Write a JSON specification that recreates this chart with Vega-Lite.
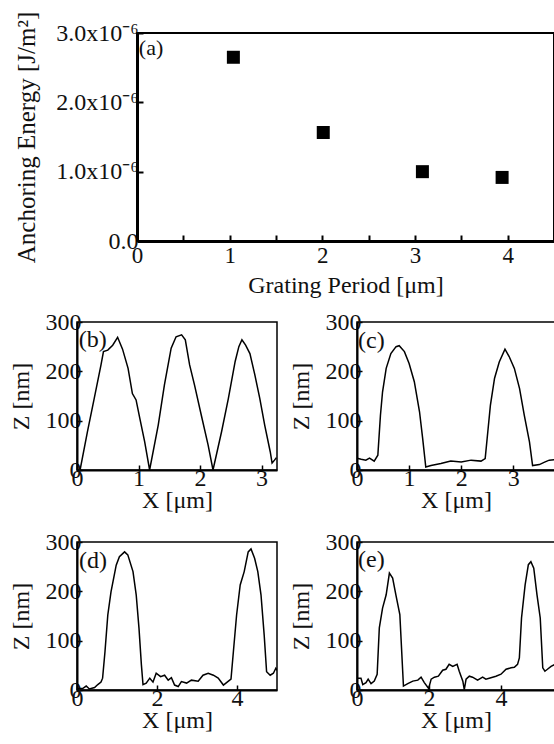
{
  "$schema": "https://vega.github.io/schema/vega-lite/v6.json",
  "background": "white",
  "padding": {"left": 8, "top": 10, "right": 0, "bottom": 0},
  "config": {
    "font": "Liberation Serif",
    "view": {"stroke": "#000", "strokeWidth": 1.5},
    "axis": {
      "grid": false, "domainColor": "#000", "domainWidth": 2, "tickColor": "#000", "tickWidth": 1.5, "tickSize": -5,
      "labelColor": "#111", "titleColor": "#111", "labelFont": "Liberation Serif", "titleFont": "Liberation Serif",
      "titleFontWeight": "normal", "labelFontSize": 24, "titleFontSize": 24, "labelPadding": 1, "titlePadding": 12,
      "labelOverlap": false, "labelFlush": false
    },
    "axisX": {"titlePadding": -2},
    "text": {"font": "Liberation Serif", "color": "#111"}
  },
  "datasets": {
    "a": [
      {"period": 1.04, "energy": 2.65e-6},
      {"period": 2.01, "energy": 1.565e-6},
      {"period": 3.08, "energy": 1.0e-6},
      {"period": 3.94, "energy": 0.917e-6}
    ],
    "b": [
      {"x": 0.05, "z": 0}, {"x": 0.17, "z": 78}, {"x": 0.28, "z": 145}, {"x": 0.39, "z": 213}, {"x": 0.43, "z": 240},
      {"x": 0.5, "z": 243}, {"x": 0.58, "z": 253}, {"x": 0.66, "z": 269}, {"x": 0.74, "z": 245}, {"x": 0.83, "z": 206},
      {"x": 0.9, "z": 155}, {"x": 0.96, "z": 142}, {"x": 1.02, "z": 105}, {"x": 1.1, "z": 57}, {"x": 1.18, "z": 0},
      {"x": 1.32, "z": 91}, {"x": 1.42, "z": 172}, {"x": 1.53, "z": 247}, {"x": 1.61, "z": 270}, {"x": 1.7, "z": 274},
      {"x": 1.76, "z": 264}, {"x": 1.83, "z": 213}, {"x": 1.91, "z": 172}, {"x": 2.02, "z": 111}, {"x": 2.13, "z": 51},
      {"x": 2.21, "z": 0}, {"x": 2.35, "z": 78}, {"x": 2.46, "z": 145}, {"x": 2.57, "z": 220}, {"x": 2.63, "z": 250},
      {"x": 2.68, "z": 264}, {"x": 2.74, "z": 253}, {"x": 2.81, "z": 236}, {"x": 2.89, "z": 193}, {"x": 2.97, "z": 145},
      {"x": 3.05, "z": 91}, {"x": 3.14, "z": 37}, {"x": 3.17, "z": 14}, {"x": 3.21, "z": 20}, {"x": 3.24, "z": 25}
    ],
    "c": [
      {"x": 0.0, "z": 24}, {"x": 0.08, "z": 22}, {"x": 0.17, "z": 20}, {"x": 0.24, "z": 24}, {"x": 0.33, "z": 18},
      {"x": 0.4, "z": 30}, {"x": 0.45, "z": 111}, {"x": 0.49, "z": 158}, {"x": 0.56, "z": 206}, {"x": 0.65, "z": 236},
      {"x": 0.75, "z": 250}, {"x": 0.81, "z": 252}, {"x": 0.91, "z": 240}, {"x": 1.0, "z": 216}, {"x": 1.1, "z": 179},
      {"x": 1.2, "z": 118}, {"x": 1.26, "z": 64}, {"x": 1.32, "z": 6}, {"x": 1.42, "z": 9}, {"x": 1.61, "z": 13},
      {"x": 1.8, "z": 18}, {"x": 2.0, "z": 16}, {"x": 2.19, "z": 20}, {"x": 2.38, "z": 18}, {"x": 2.46, "z": 23},
      {"x": 2.51, "z": 77}, {"x": 2.56, "z": 131}, {"x": 2.64, "z": 186}, {"x": 2.73, "z": 219}, {"x": 2.84, "z": 245},
      {"x": 2.92, "z": 230}, {"x": 3.02, "z": 206}, {"x": 3.12, "z": 165}, {"x": 3.21, "z": 111}, {"x": 3.31, "z": 57},
      {"x": 3.37, "z": 9}, {"x": 3.5, "z": 11}, {"x": 3.6, "z": 16}, {"x": 3.69, "z": 20}, {"x": 3.8, "z": 21}
    ],
    "d": [
      {"x": 0.0, "z": 3}, {"x": 0.14, "z": 3}, {"x": 0.23, "z": 8}, {"x": 0.31, "z": 2}, {"x": 0.44, "z": 5},
      {"x": 0.52, "z": 11}, {"x": 0.6, "z": 16}, {"x": 0.64, "z": 24}, {"x": 0.7, "z": 78}, {"x": 0.77, "z": 152},
      {"x": 0.85, "z": 199}, {"x": 0.98, "z": 253}, {"x": 1.06, "z": 270}, {"x": 1.19, "z": 280}, {"x": 1.27, "z": 274},
      {"x": 1.4, "z": 240}, {"x": 1.48, "z": 193}, {"x": 1.55, "z": 125}, {"x": 1.61, "z": 51}, {"x": 1.65, "z": 11},
      {"x": 1.73, "z": 14}, {"x": 1.82, "z": 24}, {"x": 1.9, "z": 16}, {"x": 1.98, "z": 34}, {"x": 2.09, "z": 27},
      {"x": 2.19, "z": 30}, {"x": 2.28, "z": 20}, {"x": 2.36, "z": 25}, {"x": 2.44, "z": 10}, {"x": 2.53, "z": 7},
      {"x": 2.61, "z": 17}, {"x": 2.74, "z": 14}, {"x": 2.86, "z": 20}, {"x": 3.03, "z": 18}, {"x": 3.15, "z": 30},
      {"x": 3.28, "z": 34}, {"x": 3.41, "z": 30}, {"x": 3.53, "z": 24}, {"x": 3.66, "z": 10}, {"x": 3.77, "z": 17},
      {"x": 3.85, "z": 22}, {"x": 3.91, "z": 78}, {"x": 3.99, "z": 152}, {"x": 4.08, "z": 213}, {"x": 4.18, "z": 240},
      {"x": 4.28, "z": 280}, {"x": 4.35, "z": 286}, {"x": 4.44, "z": 267}, {"x": 4.52, "z": 240}, {"x": 4.6, "z": 193},
      {"x": 4.68, "z": 111}, {"x": 4.74, "z": 37}, {"x": 4.83, "z": 30}, {"x": 4.91, "z": 34}, {"x": 4.97, "z": 44},
      {"x": 5.0, "z": 40}
    ],
    "e": [
      {"x": 0.0, "z": 24}, {"x": 0.11, "z": 24}, {"x": 0.16, "z": 11}, {"x": 0.25, "z": 15}, {"x": 0.31, "z": 22},
      {"x": 0.39, "z": 13}, {"x": 0.48, "z": 18}, {"x": 0.56, "z": 32}, {"x": 0.62, "z": 126}, {"x": 0.71, "z": 166},
      {"x": 0.81, "z": 193}, {"x": 0.9, "z": 237}, {"x": 0.99, "z": 227}, {"x": 1.08, "z": 193}, {"x": 1.19, "z": 153},
      {"x": 1.29, "z": 8}, {"x": 1.41, "z": 13}, {"x": 1.55, "z": 18}, {"x": 1.69, "z": 20}, {"x": 1.78, "z": 26},
      {"x": 1.87, "z": 15}, {"x": 1.99, "z": 3}, {"x": 2.06, "z": 22}, {"x": 2.15, "z": 26}, {"x": 2.26, "z": 28},
      {"x": 2.38, "z": 40}, {"x": 2.47, "z": 42}, {"x": 2.56, "z": 52}, {"x": 2.66, "z": 48}, {"x": 2.78, "z": 52},
      {"x": 2.84, "z": 38}, {"x": 2.94, "z": 18}, {"x": 2.98, "z": 1}, {"x": 3.03, "z": 22}, {"x": 3.12, "z": 28},
      {"x": 3.21, "z": 26}, {"x": 3.35, "z": 20}, {"x": 3.49, "z": 26}, {"x": 3.58, "z": 22}, {"x": 3.72, "z": 25},
      {"x": 3.86, "z": 28}, {"x": 4.0, "z": 32}, {"x": 4.14, "z": 42}, {"x": 4.28, "z": 45}, {"x": 4.37, "z": 46},
      {"x": 4.46, "z": 52}, {"x": 4.51, "z": 65}, {"x": 4.57, "z": 146}, {"x": 4.67, "z": 213}, {"x": 4.76, "z": 254},
      {"x": 4.83, "z": 260}, {"x": 4.91, "z": 247}, {"x": 5.0, "z": 193}, {"x": 5.09, "z": 146}, {"x": 5.16, "z": 45},
      {"x": 5.22, "z": 38}, {"x": 5.29, "z": 42}, {"x": 5.39, "z": 48}, {"x": 5.5, "z": 52}
    ]
  },
  "spacing": 11,
  "vconcat": [
    {
      "bounds": "flush",
      "spacing": 0,
      "hconcat": [
        {"width": 60, "height": 208, "view": {"stroke": null}, "data": {"values": []}, "mark": "point"},
        {
          "width": 417, "height": 208,
          "view": {"stroke": "#000", "strokeWidth": 2},
          "layer": [
            {
              "data": {"name": "a"},
              "mark": {"type": "square", "size": 169, "color": "#000", "filled": true, "opacity": 1},
              "encoding": {
                "x": {"field": "period", "type": "quantitative", "scale": {"domain": [0, 4.5], "nice": false},
                  "axis": {"title": "Grating Period [μm]", "values": [0, 0.5, 1, 1.5, 2, 2.5, 3, 3.5, 4],
                    "labelExpr": "datum.value % 1 == 0 ? format(datum.value, 'd') : ''",
                    "labelFontSize": 23, "titleFontSize": 24, "domainWidth": 3, "tickWidth": 2, "tickSize": -6, "labelPadding": 9, "titlePadding": 6}},
                "y": {"field": "energy", "type": "quantitative", "scale": {"domain": [0, 3e-6], "nice": false},
                  "axis": {"title": "Anchoring Energy [J/m²]", "values": [0, 5e-7, 1e-6, 1.5e-6, 2e-6, 2.5e-6, 3e-6],
                    "labelExpr": "round(datum.value * 2e6) % 2 == 0 ? (datum.value == 0 ? '0.0' : format(datum.value * 1e6, '.1f') + 'x10⁻⁶') : ''",
                    "labelFontSize": 24, "titleFontSize": 25, "domainWidth": 3, "tickWidth": 2, "tickSize": -6, "labelPadding": 5, "titlePadding": 16}}
              }
            },
            {
              "data": {"values": [{"label": "(a)"}]},
              "mark": {"type": "text", "align": "left", "baseline": "middle", "fontSize": 22},
              "encoding": {
                "x": {"datum": 0.02, "type": "quantitative"},
                "y": {"datum": 2.78e-6, "type": "quantitative"},
                "text": {"field": "label"}
              }
            }
          ]
        }
      ]
    },
    {
      "spacing": 16,
      "vconcat": [
        {
          "bounds": "flush",
          "spacing": 80,
          "hconcat": [
            {
              "width": 200, "height": 148,
              "layer": [
                {
                  "data": {"name": "b"},
                  "mark": {"type": "line", "color": "#000", "strokeWidth": 1.5, "clip": true},
                  "encoding": {
                    "x": {"field": "x", "type": "quantitative", "scale": {"domain": [0, 3.25], "nice": false},
                      "axis": {"title": "X [μm]", "values": [0, 0.5, 1, 1.5, 2, 2.5, 3], "labelExpr": "datum.value % 1 == 0 ? format(datum.value, 'd') : ''"}},
                    "y": {"field": "z", "type": "quantitative", "scale": {"domain": [0, 300], "nice": false},
                      "axis": {"title": "Z [nm]", "values": [0, 50, 100, 150, 200, 250, 300], "labelExpr": "datum.value % 100 == 0 ? format(datum.value, 'd') : ''"}}
                  }
                },
                {
                  "data": {"values": [{"label": "(b)"}]},
                  "mark": {"type": "text", "align": "left", "baseline": "middle", "fontSize": 24},
                  "encoding": {"x": {"datum": 0.03, "type": "quantitative"}, "y": {"datum": 264, "type": "quantitative"}, "text": {"field": "label"}}
                }
              ]
            },
            {
              "width": 198, "height": 148,
              "layer": [
                {
                  "data": {"name": "c"},
                  "mark": {"type": "line", "color": "#000", "strokeWidth": 1.5, "clip": true},
                  "encoding": {
                    "x": {"field": "x", "type": "quantitative", "scale": {"domain": [0, 3.8], "nice": false},
                      "axis": {"title": "X [μm]", "values": [0, 0.5, 1, 1.5, 2, 2.5, 3, 3.5], "labelExpr": "datum.value % 1 == 0 ? format(datum.value, 'd') : ''"}},
                    "y": {"field": "z", "type": "quantitative", "scale": {"domain": [0, 300], "nice": false},
                      "axis": {"title": "Z [nm]", "values": [0, 50, 100, 150, 200, 250, 300], "labelExpr": "datum.value % 100 == 0 ? format(datum.value, 'd') : ''"}}
                  }
                },
                {
                  "data": {"values": [{"label": "(c)"}]},
                  "mark": {"type": "text", "align": "left", "baseline": "middle", "fontSize": 24},
                  "encoding": {"x": {"datum": 0.02, "type": "quantitative"}, "y": {"datum": 262, "type": "quantitative"}, "text": {"field": "label"}}
                }
              ]
            }
          ]
        },
        {
          "bounds": "flush",
          "spacing": 80,
          "hconcat": [
            {
              "width": 200, "height": 148,
              "layer": [
                {
                  "data": {"name": "d"},
                  "mark": {"type": "line", "color": "#000", "strokeWidth": 1.5, "clip": true},
                  "encoding": {
                    "x": {"field": "x", "type": "quantitative", "scale": {"domain": [0, 5], "nice": false},
                      "axis": {"title": "X [μm]", "values": [0, 0.5, 1, 1.5, 2, 2.5, 3, 3.5, 4, 4.5, 5], "labelExpr": "datum.value % 1 == 0 ? format(datum.value, 'd') : ''"}},
                    "y": {"field": "z", "type": "quantitative", "scale": {"domain": [0, 300], "nice": false},
                      "axis": {"title": "Z [nm]", "values": [0, 50, 100, 150, 200, 250, 300], "labelExpr": "datum.value % 100 == 0 ? format(datum.value, 'd') : ''"}}
                  }
                },
                {
                  "data": {"values": [{"label": "(d)"}]},
                  "mark": {"type": "text", "align": "left", "baseline": "middle", "fontSize": 24},
                  "encoding": {"x": {"datum": 0.05, "type": "quantitative"}, "y": {"datum": 261, "type": "quantitative"}, "text": {"field": "label"}}
                }
              ]
            },
            {
              "width": 198, "height": 148,
              "layer": [
                {
                  "data": {"name": "e"},
                  "mark": {"type": "line", "color": "#000", "strokeWidth": 1.5, "clip": true},
                  "encoding": {
                    "x": {"field": "x", "type": "quantitative", "scale": {"domain": [0, 5.5], "nice": false},
                      "axis": {"title": "X [μm]", "values": [0, 0.5, 1, 1.5, 2, 2.5, 3, 3.5, 4, 4.5, 5], "labelExpr": "datum.value % 1 == 0 ? format(datum.value, 'd') : ''"}},
                    "y": {"field": "z", "type": "quantitative", "scale": {"domain": [0, 300], "nice": false},
                      "axis": {"title": "Z [nm]", "values": [0, 50, 100, 150, 200, 250, 300], "labelExpr": "datum.value % 100 == 0 ? format(datum.value, 'd') : ''"}}
                  }
                },
                {
                  "data": {"values": [{"label": "(e)"}]},
                  "mark": {"type": "text", "align": "left", "baseline": "middle", "fontSize": 24},
                  "encoding": {"x": {"datum": 0.03, "type": "quantitative"}, "y": {"datum": 264, "type": "quantitative"}, "text": {"field": "label"}}
                }
              ]
            }
          ]
        }
      ]
    }
  ]
}
